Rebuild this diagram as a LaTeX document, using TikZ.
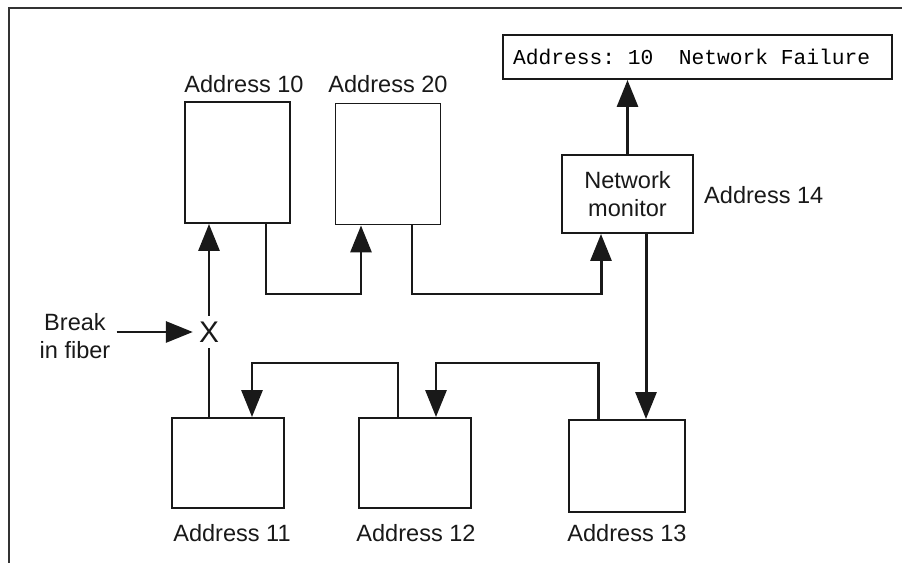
\documentclass[tikz,border=0pt]{standalone}
\usepackage{fontspec}
\setmainfont{Liberation Sans}
\setmonofont{Liberation Mono}
\usetikzlibrary{arrows.meta, positioning}

\newcommand{\gapch}{\phantom{0}}

\begin{document}
\begin{tikzpicture}[
  station/.style={rectangle, draw=black!90, line width=1.1pt, fill=white},
  tag/.style={font=\fontsize{13.4}{16}\selectfont, text=black!90, align=center},
  arr/.style={-{Triangle[length=0.54cm, width=0.42cm]}, line width=1.7pt, draw=black!90},
  fib/.style={line width=1.7pt, draw=black!90},
  frame/.style={line width=1.2pt, draw=black!80}
]
\useasboundingbox (0,0) rectangle (18.04,11.26);

% Page frame
\draw[frame] (0.18,0) -- (0.18,11.1) -- (18.04,11.1);

% Upper stations
\node[station, minimum width=2.1cm, minimum height=2.42cm] (a10) at (4.75, 8.01) {};
\node[station, minimum width=2.1cm, minimum height=2.42cm] (a20) at (7.76, 7.98) {};
\node[tag] (l10) at (4.88, 9.58) {Address 10};
\node[tag] (l20) at (7.76, 9.58) {Address 20};

% Monitor and its display
\node[station, tag, minimum width=2.62cm, minimum height=1.56cm] (mon) at (12.55, 7.38) {Network\\monitor};
\node[tag, anchor=west] (l14) at (13.96, 7.36) {Address 14};
\node[station, text width=7.38cm, inner xsep=0.2cm, minimum height=0.88cm, align=left,
      font=\ttfamily\fontsize{12.1}{14}\selectfont] (fail) at (13.95, 10.12)
      {Address:\gapch 10\gapch\gapch Network\gapch Failure};

% Lower stations
\node[station, minimum width=2.24cm, minimum height=1.8cm] (a11) at (4.56, 2.0) {};
\node[station, minimum width=2.24cm, minimum height=1.8cm] (a12) at (8.3, 2.0) {};
\node[station, minimum width=2.32cm, minimum height=1.84cm] (a13) at (12.54, 1.94) {};
\node[tag] (l11) at (4.64, 0.6) {Address 11};
\node[tag] (l12) at (8.32, 0.6) {Address 12};
\node[tag] (l13) at (12.54, 0.6) {Address 13};

% Break in the fiber
\node[tag, font=\fontsize{17}{20}\selectfont] (brk) at (4.18, 4.62) {X};
\node[tag] (why) at (1.5, 4.54) {Break\\in fiber};
\draw[arr] (why.east |- brk.west) -- (brk.west);

% Ring
\draw[arr] (brk.north) -- (brk.north |- a10.south);
\draw[fib] (brk.south) -- (brk.south |- a11.north);
\draw[arr] ([xshift=0.57cm]a10.south) |- (6.2,5.38) -| ([xshift=-0.54cm]a20.south);
\draw[arr] ([xshift=0.48cm]a20.south) |- (10,5.38) -| ([xshift=-0.53cm]mon.south);
\draw[arr] (mon.north) -- (mon.north |- fail.south);
\draw[arr] ([xshift=0.37cm]mon.south) -- ([xshift=0.37cm]mon.south |- a13.north);
\draw[arr] ([xshift=-0.58cm]a13.north) |- (10,4.0) -| ([xshift=0.42cm]a12.north);
\draw[arr] ([xshift=-0.34cm]a12.north) |- (6,4.0) -| ([xshift=0.48cm]a11.north);
\end{tikzpicture}
\end{document}
